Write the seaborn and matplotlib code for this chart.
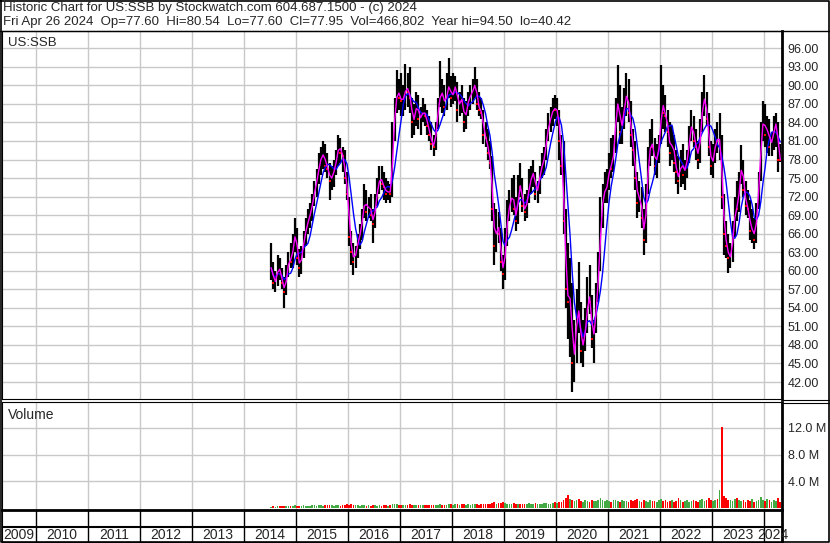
import numpy as np
import pandas as pd
import seaborn as sns
import matplotlib
matplotlib.use("Agg")
import matplotlib.pyplot as plt

# Half-month bars for US:SSB, first bar = first half of July 2014, last = second half of April 2024
highs = [
    64.5, 61.5, 60.0, 62.5, 62.0, 60.5, 59.0, 61.0, 63.0, 64.5, 66.0, 68.5,  # 2014 (Jul-Dec)
    67.0, 63.5, 64.0, 66.5, 68.5, 70.0, 71.0, 72.5, 74.5, 76.5, 79.0, 80.0, 81.0, 80.5, 79.0, 77.5, 77.0, 78.0, 79.5, 82.0, 81.5, 80.0, 79.5, 76.0,  # 2015
    72.0, 66.5, 64.5, 64.0, 66.0, 67.5, 70.0, 74.0, 73.0, 72.0, 72.5, 70.0, 72.5, 75.0, 77.0, 77.0, 76.0, 75.0, 74.5, 74.0, 84.0, 88.0, 92.5, 91.0,  # 2016
    92.0, 90.0, 93.5, 92.0, 93.0, 88.0, 87.0, 89.0, 88.5, 86.5, 88.0, 87.0, 86.0, 85.0, 84.0, 82.0, 84.0, 88.0, 94.0, 91.0, 90.0, 92.0, 94.5, 91.5,  # 2017
    92.0, 91.5, 90.5, 89.0, 90.0, 88.0, 87.5, 89.0, 90.0, 91.0, 93.0, 91.0, 89.0, 88.0, 86.0, 84.0, 83.0, 81.0, 78.5, 71.0, 70.0, 69.5, 67.0, 62.5,  # 2018
    67.0, 71.5, 73.0, 75.0, 75.5, 72.0, 75.5, 77.5, 75.0, 72.5, 73.0, 76.5, 77.0, 78.0, 76.0, 74.5, 77.0, 79.0, 80.0, 83.0, 85.5, 86.5, 88.0, 88.5,  # 2019
    88.0, 86.0, 82.0, 81.0, 70.0, 64.5, 62.0, 58.0, 52.0, 57.0, 61.5, 55.0, 52.0, 54.0, 59.0, 61.0, 56.0, 52.0, 58.0, 63.0, 72.0, 74.0, 76.0, 76.5,  # 2020
    79.0, 81.5, 82.0, 88.0, 93.3, 90.0, 86.5, 89.5, 92.0, 91.0, 87.5, 83.0, 81.0, 76.0, 74.5, 73.5, 70.0, 74.0, 80.0, 83.0, 84.5, 81.5, 80.5, 82.0,  # 2021
    93.3, 90.0, 88.5, 86.0, 84.0, 83.5, 82.0, 79.5, 78.5, 79.5, 80.5, 78.0, 79.5, 83.5, 86.0, 85.0, 83.0, 81.0, 84.5, 89.0, 91.7, 89.0, 85.5, 81.0,  # 2022
    80.5, 83.0, 84.0, 85.5, 82.0, 72.5, 68.0, 66.0, 64.5, 68.0, 72.0, 74.5, 76.0, 80.3, 78.0, 74.5, 73.0, 71.5, 70.0, 68.5, 71.0, 76.0, 84.0, 87.4,  # 2023
    87.0, 85.0, 84.5, 82.5, 85.0, 85.5, 84.0, 80.54,  # 2024 (Jan-Apr)
]
lows = [
    58.5, 57.0, 56.5, 57.5, 58.5, 57.0, 54.0, 56.0, 59.0, 60.5, 60.5, 63.0,
    61.0, 59.0, 59.5, 62.0, 64.0, 66.0, 67.0, 68.0, 70.5, 72.0, 74.0, 75.5, 76.5, 76.0, 75.0, 71.5, 73.0, 73.5, 75.5, 77.0, 77.5, 76.0, 74.0, 71.5,
    64.0, 61.0, 59.3, 60.5, 62.0, 63.5, 65.0, 68.5, 68.0, 68.5, 68.0, 64.5, 67.0, 70.5, 72.5, 73.0, 71.5, 71.0, 71.5, 71.0, 72.0, 81.0, 85.5, 86.0,
    85.0, 85.0, 86.0, 86.5, 85.5, 81.5, 82.0, 83.5, 83.0, 82.0, 84.0, 83.5, 82.0, 81.0, 79.5, 78.5, 79.5, 83.0, 86.5, 85.5, 85.0, 86.0, 88.0, 86.5,
    87.0, 87.5, 84.0, 85.0, 85.5, 82.5, 83.0, 85.0, 86.0, 87.0, 88.0, 86.0, 85.0, 84.5, 80.5, 80.0, 78.0, 76.5, 68.0, 61.0, 63.0, 64.5, 60.0, 57.0,
    58.5, 64.0, 68.0, 69.5, 69.0, 66.5, 67.5, 72.0, 69.5, 68.0, 68.5, 71.0, 72.5, 73.5, 71.5, 71.0, 72.5, 75.0, 75.5, 78.0, 81.0, 82.5, 83.5, 84.5,
    83.5, 78.0, 75.5, 66.0, 54.0, 49.0, 46.0, 40.42, 42.0, 45.0, 50.0, 45.0, 44.5, 47.0, 50.0, 53.0, 47.5, 45.0, 50.0, 55.0, 60.0, 67.0, 71.0, 71.0,
    73.0, 75.0, 76.0, 79.0, 84.0, 80.5, 80.5, 83.0, 85.0, 84.0, 80.0, 77.0, 73.0, 68.5, 69.5, 67.0, 62.6, 64.5, 72.5, 77.0, 78.5, 75.5, 75.0, 77.5,
    80.5, 83.0, 82.5, 80.0, 77.0, 78.0, 76.0, 74.0, 72.5, 73.5, 74.0, 73.0, 75.0, 77.5, 81.0, 80.0, 78.0, 76.5, 77.5, 82.5, 85.0, 83.5, 78.5, 75.5,
    75.0, 77.5, 79.0, 78.0, 70.0, 62.5, 62.0, 59.6, 60.5, 61.5, 65.5, 68.0, 69.5, 74.0, 72.0, 69.0, 68.5, 65.0, 64.5, 63.6, 64.5, 70.0, 74.5, 81.0,
    80.0, 79.0, 78.5, 78.5, 79.5, 80.0, 76.0, 77.6,
]
closes = [
    60.5, 58.0, 58.5, 61.0, 59.5, 58.0, 56.5, 60.0, 62.0, 61.5, 64.5, 66.5,
    62.0, 60.5, 63.0, 65.5, 67.0, 68.5, 69.5, 71.5, 73.5, 75.0, 77.5, 78.5, 79.0, 77.0, 76.5, 74.5, 75.5, 76.5, 78.5, 80.5, 79.0, 78.5, 75.0, 72.5,
    65.5, 63.0, 61.5, 63.5, 65.0, 66.5, 69.0, 72.0, 69.5, 71.0, 69.0, 67.5, 71.5, 73.5, 75.5, 74.0, 73.5, 72.5, 73.0, 72.5, 82.0, 86.5, 89.5, 88.0,
    87.5, 88.0, 90.0, 89.0, 88.0, 84.0, 85.0, 87.5, 84.5, 85.0, 86.0, 85.0, 83.5, 82.0, 80.5, 80.0, 83.5, 87.0, 89.0, 88.5, 86.5, 89.5, 90.0, 88.0,
    89.0, 90.5, 86.0, 88.0, 87.5, 84.0, 86.5, 88.0, 88.5, 89.5, 90.5, 87.0, 86.0, 85.5, 82.0, 81.5, 79.0, 77.5, 70.0, 64.0, 68.0, 66.0, 61.5, 59.5,
    65.0, 70.0, 70.5, 73.0, 70.0, 68.0, 74.0, 73.5, 70.5, 69.5, 72.0, 74.0, 75.5, 76.0, 72.5, 73.5, 76.5, 77.0, 79.0, 82.0, 84.0, 85.0, 86.5, 86.0,
    86.0, 81.0, 77.0, 68.0, 57.0, 55.0, 56.0, 45.0, 48.0, 54.0, 53.0, 47.0, 49.0, 51.0, 56.5, 55.0, 49.0, 50.5, 56.0, 61.0, 69.0, 72.5, 73.0, 74.0,
    77.5, 76.5, 80.5, 86.0, 88.0, 82.5, 84.5, 87.5, 89.0, 85.5, 82.0, 79.5, 75.0, 71.0, 72.5, 68.5, 65.0, 73.0, 78.5, 81.0, 80.0, 77.0, 79.0, 80.5,
    88.0, 85.5, 85.0, 82.5, 79.0, 81.5, 77.5, 76.0, 74.5, 78.5, 75.5, 77.0, 78.5, 82.5, 84.0, 81.0, 80.0, 78.0, 83.5, 87.5, 88.0, 84.5, 80.0, 77.0,
    78.5, 81.5, 81.0, 81.5, 72.0, 66.0, 64.0, 62.0, 62.5, 66.5, 70.5, 70.0, 75.0, 77.5, 73.0, 70.5, 70.0, 66.5, 67.0, 65.0, 70.5, 75.0, 82.5, 85.0,
    82.0, 83.5, 80.0, 81.5, 83.0, 84.5, 78.0, 77.95,
]
# peak daily volume in each half month, millions of shares
volumes = [
    0.15, 0.2, 0.15, 0.2, 0.25, 0.2, 0.3, 0.25, 0.2, 0.3, 0.25, 0.35,
    0.3, 0.25, 0.3, 0.35, 0.3, 0.25, 0.3, 0.4, 0.35, 0.3, 0.4, 0.35, 0.3, 0.35, 0.45, 0.4, 0.35, 0.3, 0.35, 0.4, 0.3, 0.35, 0.4, 0.5,
    0.45, 0.5, 0.4, 0.35, 0.4, 0.3, 0.35, 0.4, 0.3, 0.35, 0.3, 0.45, 0.35, 0.3, 0.35, 0.3, 0.4, 0.35, 0.3, 0.35, 0.6, 0.55, 0.5, 0.4,
    0.4, 0.35, 0.45, 0.4, 0.5, 0.45, 0.4, 0.35, 0.4, 0.35, 0.45, 0.4, 0.35, 0.4, 0.45, 0.4, 0.35, 0.45, 0.5, 0.4, 0.45, 0.4, 0.5, 0.55,
    0.45, 0.5, 0.55, 0.45, 0.5, 0.55, 0.45, 0.5, 0.45, 0.55, 0.6, 0.5, 0.45, 0.5, 0.55, 0.5, 0.6, 0.55, 0.75, 0.8, 0.6, 0.65, 0.7, 0.8,
    0.7, 0.6, 0.55, 0.6, 0.65, 0.6, 0.55, 0.6, 0.55, 0.5, 0.6, 0.65, 0.55, 0.6, 0.7, 0.6, 0.55, 0.6, 0.65, 0.7, 0.6, 0.55, 0.65, 0.8,
    0.7, 0.8, 0.9, 1.1, 1.4, 1.9, 1.3, 1.2, 1.0, 1.1, 1.3, 1.0, 0.9, 1.2, 1.0, 0.9, 1.1, 0.95, 1.0, 1.2, 1.4, 1.1, 1.0, 1.2,
    1.0, 0.9, 1.1, 1.2, 1.0, 0.9, 1.1, 0.95, 1.0, 0.9, 1.2, 1.0, 1.1, 1.3, 1.0, 0.9, 1.2, 1.0, 0.9, 1.1, 0.95, 1.0, 0.9, 1.2,
    1.3, 1.0, 1.1, 0.9, 1.0, 1.2, 0.9, 1.0, 1.4, 1.1, 0.9, 1.0, 1.1, 0.9, 1.0, 1.2, 1.0, 0.9, 1.1, 1.3, 1.0, 1.1, 1.5, 1.2,
    1.0, 1.1, 1.3, 2.7, 12.2, 1.8, 1.4, 1.2, 1.1, 1.0, 1.3, 1.5, 1.1, 1.0, 1.2, 0.9, 1.1, 1.0, 1.3, 0.9, 1.0, 1.2, 1.6, 1.1,
    1.0, 1.3, 1.1, 0.9, 1.2, 1.0, 1.4, 0.9,
]
price_ticks = list(range(42, 97, 3))
volume_ticks = [4, 8, 12]
year_labels = list(range(2009, 2025))

header1 = "Historic Chart for US:SSB by Stockwatch.com 604.687.1500 - (c) 2024"
header2 = ("Fri Apr 26 2024  Op=77.60  Hi=80.54  Lo=77.60  Cl=77.95  "
           "Vol=466,802  Year hi=94.50  lo=40.42")

# build the frame: two bars per month
months = pd.period_range("2014-07", "2024-04", freq="M")
t = []
for m in months:
    for h in range(2):
        t.append(m.year + (m.month - 1) / 12 + (h + 0.5) / 24)
df = pd.DataFrame({"t": t, "hi": highs, "lo": lows, "close": closes, "vol": volumes})
df["ma_short"] = df["close"].rolling(2, min_periods=1).mean()   # ~20 day
df["ma_long"] = df["close"].rolling(6, min_periods=1).mean()    # ~60 day
df["down"] = df["close"].diff().fillna(0) < 0

sns.set_style("white")
plt.rcParams["font.family"] = ["Liberation Sans", "DejaVu Sans"]

W, H = 830, 543
fig = plt.figure(figsize=(W / 100, H / 100), dpi=100)


def box(x0, y0, x1, y1):
    return [x0 / W, 1 - y1 / H, (x1 - x0) / W, (y1 - y0) / H]


XL = (2009.346, 2024.346)
grid_col = "#c8c8c8"

# price panel
ax = fig.add_axes(box(2, 31, 782, 399))
ax.set_xlim(*XL)
ax.set_ylim(39.25, 98.8)
ax.set_xticks(range(2010, 2025))
ax.set_xticklabels([])
ax.set_yticks(price_ticks)
ax.set_yticklabels([f"{v:.2f}" for v in price_ticks])
ax.yaxis.tick_right()
ax.tick_params(length=0, labelsize=9, pad=4)
ax.grid(True, color=grid_col, lw=1.0)
ax.set_axisbelow(True)
ax.vlines(df["t"], df["lo"], df["hi"], color="black", lw=1.6, zorder=2)
dn = df[df["down"]]
ax.scatter(dn["t"], dn["close"], marker="s", s=2.5, color="red", linewidths=0, zorder=3)
sns.lineplot(data=df, x="t", y="ma_long", ax=ax, color="#0000ff", lw=1.0, zorder=4)
sns.lineplot(data=df, x="t", y="ma_short", ax=ax, color="#ff00ff", lw=1.0, zorder=5)
ax.set_xlabel("")
ax.set_ylabel("")
ax.text(0.008, 0.985, "US:SSB", transform=ax.transAxes, va="top", ha="left", fontsize=9.5)

# volume panel
axv = fig.add_axes(box(2, 402, 782, 510))
axv.set_xlim(*XL)
axv.set_ylim(-0.35, 15.9)
axv.set_xticks(range(2010, 2025))
axv.set_xticklabels([])
axv.set_yticks(volume_ticks)
axv.set_yticklabels([f"{v:.1f} M" for v in volume_ticks])
axv.yaxis.tick_right()
axv.tick_params(length=0, labelsize=9, pad=4)
axv.grid(True, color=grid_col, lw=1.0)
axv.set_axisbelow(True)
vcol = np.where(df["down"], "#ff0000", "#44aa44")
axv.bar(df["t"], df["vol"], width=1 / 24 * 0.7, color=vcol, linewidth=0, zorder=2)
axv.text(0.008, 0.94, "Volume", transform=axv.transAxes, va="top", ha="left", fontsize=10)

# year strip
axy = fig.add_axes(box(2, 510, 782, 542))
axy.set_xlim(*XL)
axy.set_ylim(32, 0)
axy.set_xticks([])
axy.set_yticks([])
axy.vlines(range(2010, 2025), 0, 32, color="black", lw=1.0)
axy.axhline(17, color="black", lw=1.5)
for y in year_labels:
    a, b = max(y, XL[0]), min(y + 1, XL[1])
    axy.text((a + b) / 2, 25, str(y), ha="center", va="center", fontsize=10)

for a in (ax, axv, axy):
    for s in a.spines.values():
        s.set_color("black")
        s.set_linewidth(0.8)
    a.spines["right"].set_linewidth(2.0)
axy.spines["top"].set_linewidth(2.0)

# outer frame and header
axf = fig.add_axes([0, 0, 1, 1])
axf.set_xlim(0, W)
axf.set_ylim(H, 0)
axf.axis("off")
axf.patch.set_alpha(0)
axf.plot([0.5, 828.5, 828.5, 0.5, 0.5], [0.5, 0.5, 542, 542, 0.5], color="black", lw=1.2)
axf.plot([0, 829], [30.5, 30.5], color="black", lw=1.0)
axf.plot([782, 829], [399.5, 399.5], color="black", lw=0.8)
axf.plot([782, 829], [402.5, 402.5], color="black", lw=0.8)
axf.text(3, 8, header1, ha="left", va="center", fontsize=9.5)
axf.text(3, 22, header2, ha="left", va="center", fontsize=9.5)

fig.savefig("out.png", dpi=100)
